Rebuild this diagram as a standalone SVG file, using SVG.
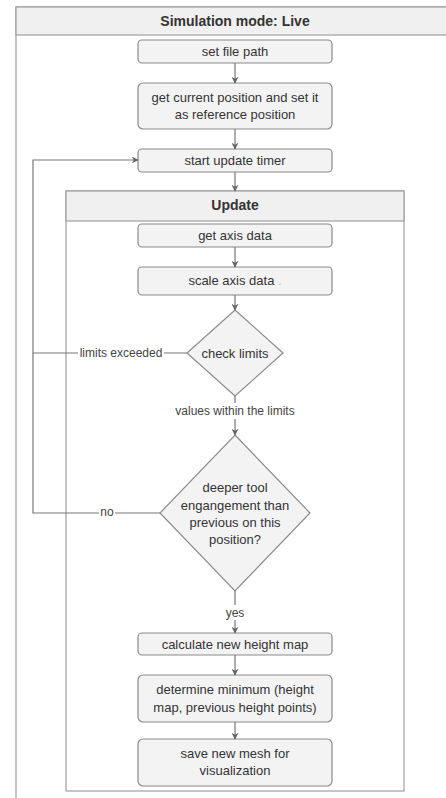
<svg xmlns="http://www.w3.org/2000/svg" width="446" height="798" viewBox="0 0 446 798">
<defs>
<marker id="ah" viewBox="0 0 10 10" refX="9" refY="5" markerWidth="7" markerHeight="7" orient="auto" markerUnits="userSpaceOnUse">
<path d="M0,0 L10,5 L0,10 L3,5 Z" fill="#666"/>
</marker>
<style>
.box{fill:#f3f3f3;stroke:#8a8a8a;stroke-width:1.2}
.cont{fill:#fff;stroke:#a0a0a0;stroke-width:1.2}
.hdr{fill:#f0f0f0;stroke:#a0a0a0;stroke-width:1.2}
.t{font-family:"Liberation Sans",Arial,sans-serif;font-size:13px;fill:#333;text-anchor:middle;dominant-baseline:central}
.b{font-weight:bold;font-size:14px}
.lbl{font-family:"Liberation Sans",Arial,sans-serif;font-size:12px;fill:#444;text-anchor:middle;dominant-baseline:central}
.ln{fill:none;stroke:#777;stroke-width:1.2}
</style>
</defs>
<rect width="446" height="798" fill="#fff"/>
<g id="sim">
<rect class="cont" x="16" y="7" width="440" height="800"/>
<rect class="hdr" x="16" y="7" width="440" height="28"/>
<text class="t b" x="235" y="21">Simulation mode: Live</text>
</g>
<g id="update">
<rect class="cont" x="66" y="191" width="338" height="600"/>
<rect class="hdr" x="66" y="191" width="338" height="30"/>
<text class="t b" x="235" y="205">Update</text>
</g>
<g id="n1"><rect class="box" x="138" y="40" width="194" height="23" rx="4"/><text class="t" x="235" y="51.5">set file path</text></g>
<g id="n2"><rect class="box" x="138" y="83" width="194" height="46" rx="5"/><text class="t" x="235" y="97">get current position and set it</text><text class="t" x="235" y="114">as reference position</text></g>
<g id="n3"><rect class="box" x="138" y="149" width="194" height="23" rx="4"/><text class="t" x="235" y="160">start update timer</text></g>
<g id="n4"><rect class="box" x="138" y="224" width="194" height="23" rx="4"/><text class="t" x="235" y="235">get axis data</text></g>
<g id="n5"><rect class="box" x="138" y="267" width="194" height="28" rx="4"/><text class="t" x="235" y="280">scale axis data <tspan fill="#bbb">.</tspan></text></g>
<g id="d1"><polygon class="box" points="235,310 283,353 235,396 187,353"/><text class="t" x="235" y="353">check limits</text></g>
<g id="d2"><polygon class="box" points="235,435 310,513 235,591 160,513"/><text class="t" x="235" y="487">deeper tool</text><text class="t" x="235" y="505">engangement than</text><text class="t" x="235" y="522">previous on this</text><text class="t" x="235" y="539">position?</text></g>
<g id="n6"><rect class="box" x="138" y="633" width="194" height="22" rx="4"/><text class="t" x="235" y="644">calculate new height map</text></g>
<g id="n7"><rect class="box" x="138" y="675" width="194" height="47" rx="5"/><text class="t" x="235" y="689">determine minimum (height</text><text class="t" x="235" y="707">map, previous height points)</text></g>
<g id="n8"><rect class="box" x="138" y="739" width="194" height="47" rx="5"/><text class="t" x="235" y="753">save new mesh for</text><text class="t" x="235" y="770">visualization</text></g>
<g id="edges">
<line class="ln" x1="235" y1="63" x2="235" y2="83" marker-end="url(#ah)"/>
<line class="ln" x1="235" y1="129" x2="235" y2="149" marker-end="url(#ah)"/>
<line class="ln" x1="235" y1="172" x2="235" y2="191" marker-end="url(#ah)"/>
<line class="ln" x1="235" y1="247" x2="235" y2="267" marker-end="url(#ah)"/>
<line class="ln" x1="235" y1="295" x2="235" y2="310" marker-end="url(#ah)"/>
<line class="ln" x1="235" y1="396" x2="235" y2="435" marker-end="url(#ah)"/>
<rect x="172" y="403" width="126" height="16" fill="#fff"/>
<text class="lbl" x="235" y="411">values within the limits</text>
<line class="ln" x1="235" y1="591" x2="235" y2="633" marker-end="url(#ah)"/>
<rect x="224" y="605" width="22" height="15" fill="#fff"/>
<text class="lbl" x="235" y="613">yes</text>
<line class="ln" x1="235" y1="655" x2="235" y2="675" marker-end="url(#ah)"/>
<line class="ln" x1="235" y1="722" x2="235" y2="739" marker-end="url(#ah)"/>
<polyline class="ln" points="187,353 33,353 33,160 138,160" marker-end="url(#ah)"/>
<rect x="78" y="345" width="86" height="16" fill="#fff"/>
<text class="lbl" x="121" y="353">limits exceeded</text>
<polyline class="ln" points="160,513 33,513 33,353"/>
<rect x="99" y="506" width="16" height="14" fill="#fff"/>
<text class="lbl" x="107" y="512">no</text>
</g>
</svg>
